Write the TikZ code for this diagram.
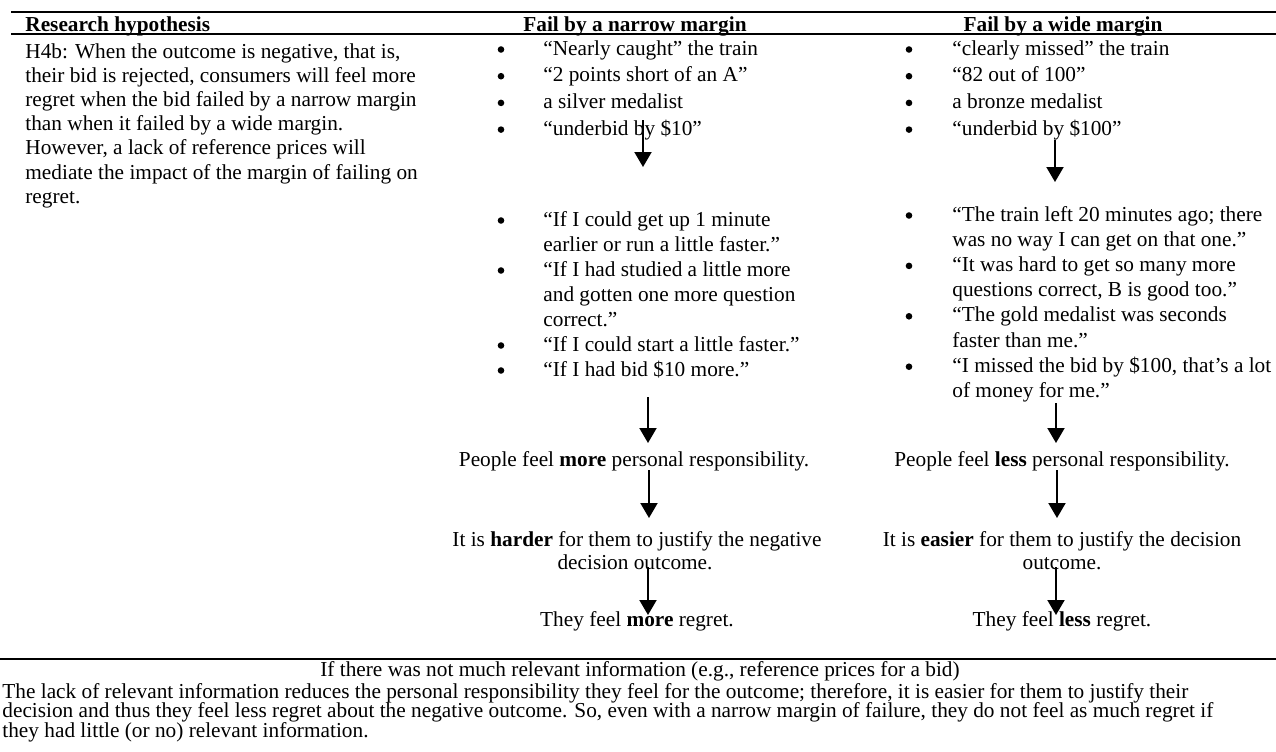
\documentclass[tikz,border=0pt]{standalone}
\usepackage{fontspec}
\setmainfont{Liberation Serif}
\usetikzlibrary{arrows.meta}

\begin{document}
\begin{tikzpicture}[x=0.5pt, y=-0.5pt,
  txt/.style={anchor=base west, inner sep=0pt, font=\fontsize{10.65}{12}\selectfont},
  mid/.style={txt, anchor=base},
  head/.style={mid, font=\fontsize{10.65}{12}\selectfont\bfseries},
  dot/.style={circle, fill, inner sep=0pt, minimum size=3.3pt},
  rule/.style={line width=1.3pt},
  flow/.style={-{Triangle[width=8.5pt,length=7.5pt]}, line width=1pt}]
  \useasboundingbox (0,0) rectangle (1276,751);

  % table rules
  \foreach \k/\xa/\y in {top/11/12, head/11/34, foot/0/659} {
    \coordinate (\k-l) at (\xa,\y);
    \coordinate (\k-r) at (1276,\y);
    \draw[rule] (\k-l) -- (\k-r);
  }

  % header row
  \node[head, anchor=base west] (h-hyp) at (25,31) {Research hypothesis};
  \node[head] (h-narrow) at (635,31) {Fail by a narrow margin};
  \node[head] (h-wide) at (1063,31) {Fail by a wide margin};

  % hypothesis, one line per node
  \foreach \txt [count=\i from 0] in {
      {H4b: When the outcome is negative, that is,},
      {their bid is rejected, consumers will feel more},
      {regret when the bid failed by a narrow margin},
      {than when it failed by a wide margin.},
      {However, a lack of reference prices will},
      {mediate the impact of the margin of failing on},
      {regret.}}
    \node[txt] (hyp-\i) at (25,{58+24.2*\i}) {\txt};

  % first bullet lists (1 = line with a bullet)
  \foreach \b/\txt [count=\i from 0] in {
      1/{“Nearly caught” the train},
      1/{“2 points short of an A”},
      1/{a silver medalist},
      1/{“underbid by \$10”}} {
    \node[txt] (na-\i) at (543,{55+26.7*\i}) {\txt};
    \ifnum\b=1 \node[dot] (na-dot-\i) at (501,{49.5+26.7*\i}) {}; \fi
  }
  \foreach \b/\txt [count=\i from 0] in {
      1/{“clearly missed” the train},
      1/{“82 out of 100”},
      1/{a bronze medalist},
      1/{“underbid by \$100”}} {
    \node[txt] (wa-\i) at (952,{55+26.7*\i}) {\txt};
    \ifnum\b=1 \node[dot] (wa-dot-\i) at (909,{49.5+26.7*\i}) {}; \fi
  }

  % second bullet lists
  \foreach \b/\txt [count=\i from 0] in {
      1/{“If I could get up 1 minute},
      0/{earlier or run a little faster.”},
      1/{“If I had studied a little more},
      0/{and gotten one more question},
      0/{correct.”},
      1/{“If I could start a little faster.”},
      1/{“If I had bid \$10 more.”}} {
    \node[txt] (nb-\i) at (543,{226+25*\i}) {\txt};
    \ifnum\b=1 \node[dot] (nb-dot-\i) at (501,{220.5+25*\i}) {}; \fi
  }
  \foreach \b/\txt [count=\i from 0] in {
      1/{“The train left 20 minutes ago; there},
      0/{was no way I can get on that one.”},
      1/{“It was hard to get so many more},
      0/{questions correct, B is good too.”},
      1/{“The gold medalist was seconds},
      0/{faster than me.”},
      1/{“I missed the bid by \$100, that’s a lot},
      0/{of money for me.”}} {
    \node[txt] (wb-\i) at (952,{221+25.2*\i}) {\txt};
    \ifnum\b=1 \node[dot] (wb-dot-\i) at (909,{215.5+25.2*\i}) {}; \fi
  }

  % consequences
  \node[mid] (n-resp) at (634,466) {People feel \textbf{more} personal responsibility.};
  \node[mid] (n-just) at (637,546) {It is \textbf{harder} for them to justify the negative};
  \node[mid] (n-just2) at (635,569) {decision outcome.};
  \node[mid] (n-regret) at (637,626) {They feel \textbf{more} regret.};
  \node[mid] (w-resp) at (1062,466) {People feel \textbf{less} personal responsibility.};
  \node[mid] (w-just) at (1062,546) {It is \textbf{easier} for them to justify the decision};
  \node[mid] (w-just2) at (1062,569) {outcome.};
  \node[mid] (w-regret) at (1062,626) {They feel \textbf{less} regret.};

  % arrows between the steps
  \foreach \k/\x/\ya/\yb in {n1/643/120/167, n2/648/397/443, n3/649/470/518, n4/648/567/615,
                             w1/1055/140/182, w2/1056/403/443, w3/1057/470/518, w4/1056/567/615} {
    \coordinate (\k-top) at (\x,\ya);
    \coordinate (\k-tip) at (\x,\yb);
    \draw[flow] (\k-top) -- (\k-tip);
  }

  % footer
  \node[mid] (foot-head) at (640,676) {If there was not much relevant information (e.g., reference prices for a bid)};
  \foreach \txt [count=\i from 0] in {
      {The lack of relevant information reduces the personal responsibility they feel for the outcome; therefore, it is easier for them to justify their},
      {decision and thus they feel less regret about the negative outcome. So, even with a narrow margin of failure, they do not feel as much regret if},
      {they had little (or no) relevant information.}}
    \node[txt] (foot-\i) at (2,{698+19.5*\i}) {\txt};
\end{tikzpicture}
\end{document}
